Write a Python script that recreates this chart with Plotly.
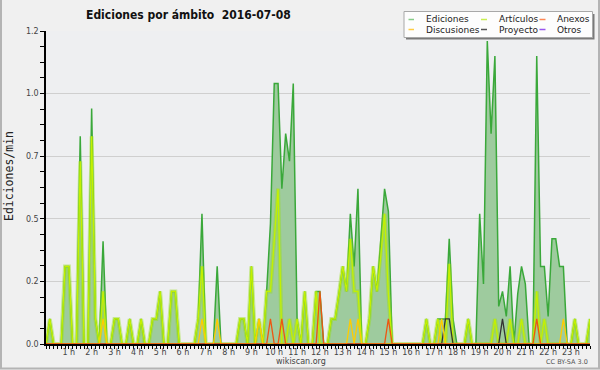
import plotly.graph_objects as go

# ---- data (10-minute bins, 00:00 .. 23:50) ----
minutos = list(range(0, 1440, 10))

ediciones = [
    0, 0.1, 0, 0, 0, 0.31, 0.31, 0, 0, 0.83, 0, 0,
    0.94, 0.1, 0, 0.41, 0, 0, 0.1, 0.1, 0, 0, 0.1, 0,
    0, 0.1, 0, 0, 0.1, 0.1, 0.21, 0, 0, 0.21, 0.21, 0,
    0, 0, 0, 0, 0.1, 0.52, 0, 0, 0, 0.31, 0, 0,
    0, 0, 0, 0.1, 0.1, 0, 0.31, 0, 0.1, 0, 0.21, 0.48,
    1.04, 1.04, 0.62, 0.84, 0.73, 1.04, 0.1, 0, 0.21, 0, 0, 0.21,
    0.21, 0, 0, 0.1, 0.1, 0.2, 0.31, 0.21, 0.52, 0.31, 0.62, 0,
    0, 0.1, 0.31, 0.21, 0.42, 0.62, 0.53, 0, 0, 0, 0, 0,
    0, 0, 0, 0, 0.1, 0, 0, 0.1, 0.1, 0.1, 0.42, 0.1,
    0, 0, 0, 0.1, 0, 0, 0.52, 0.24, 1.21, 0.84, 1.15, 0.15,
    0.21, 0.11, 0.31, 0, 0.2, 0.31, 0.24, 0, 0, 1.15, 0.31, 0.31,
    0.11, 0.42, 0.42, 0.31, 0.31, 0, 0, 0.1, 0, 0, 0, 0.1,
]

articulos = [
    0, 0.1, 0, 0, 0, 0.31, 0.31, 0, 0, 0.73, 0, 0,
    0.83, 0.1, 0, 0.21, 0, 0, 0.1, 0.1, 0, 0, 0.1, 0,
    0, 0.1, 0, 0, 0.1, 0.1, 0.21, 0, 0, 0.21, 0.21, 0,
    0, 0, 0, 0, 0.1, 0.31, 0, 0, 0, 0, 0, 0,
    0, 0, 0, 0.1, 0.1, 0, 0.31, 0, 0.1, 0, 0.21, 0.21,
    0.41, 0.62, 0, 0, 0.1, 0, 0.1, 0, 0.21, 0, 0, 0.21,
    0, 0, 0, 0.1, 0.1, 0.2, 0.31, 0.21, 0.42, 0.21, 0.21, 0,
    0, 0.1, 0.31, 0.21, 0.35, 0.52, 0.2, 0, 0, 0, 0, 0,
    0, 0, 0, 0, 0.1, 0, 0, 0.1, 0, 0, 0.32, 0,
    0, 0, 0, 0.1, 0, 0, 0, 0, 0, 0, 0.1, 0,
    0, 0, 0.1, 0, 0, 0.1, 0, 0, 0, 0.21, 0, 0.1,
    0, 0, 0, 0, 0, 0, 0, 0.1, 0, 0, 0, 0.1,
]

discusiones = [
    0, 0, 0, 0, 0, 0, 0, 0, 0, 0, 0, 0,
    0, 0, 0, 0.1, 0, 0, 0, 0, 0, 0, 0, 0,
    0, 0, 0, 0, 0, 0, 0, 0, 0, 0, 0, 0,
    0, 0, 0, 0, 0, 0.1, 0, 0, 0, 0.1, 0, 0,
    0, 0, 0, 0, 0, 0, 0, 0, 0.1, 0, 0, 0,
    0, 0, 0, 0, 0, 0, 0, 0, 0, 0, 0, 0,
    0, 0, 0, 0, 0, 0, 0, 0, 0.1, 0, 0.1, 0,
    0, 0, 0, 0, 0, 0, 0, 0, 0, 0, 0, 0,
    0, 0, 0, 0, 0, 0, 0, 0, 0.1, 0, 0, 0,
    0, 0, 0, 0, 0, 0, 0, 0, 0, 0, 0, 0,
    0, 0, 0, 0, 0, 0, 0, 0, 0, 0, 0, 0,
    0, 0, 0, 0, 0.1, 0, 0, 0, 0, 0, 0, 0,
]

anexos = [
    0, 0, 0, 0, 0, 0, 0, 0, 0, 0, 0, 0,
    0, 0, 0, 0, 0, 0, 0, 0, 0, 0, 0, 0,
    0, 0, 0, 0, 0, 0, 0, 0, 0, 0, 0, 0,
    0, 0, 0, 0, 0, 0, 0, 0, 0, 0, 0, 0,
    0, 0, 0, 0, 0, 0, 0, 0, 0, 0, 0, 0.1,
    0, 0, 0.1, 0, 0, 0, 0, 0, 0, 0, 0, 0,
    0.21, 0, 0, 0, 0, 0, 0, 0, 0, 0, 0, 0,
    0, 0, 0, 0, 0, 0, 0.1, 0, 0, 0, 0, 0,
    0, 0, 0, 0, 0, 0, 0, 0, 0, 0, 0, 0,
    0, 0, 0, 0, 0, 0, 0, 0, 0, 0, 0, 0,
    0, 0, 0, 0, 0, 0, 0, 0, 0, 0.1, 0, 0,
    0, 0, 0, 0, 0, 0, 0, 0, 0, 0, 0, 0,
]

proyecto = [
    0, 0, 0, 0, 0, 0, 0, 0, 0, 0, 0, 0,
    0, 0, 0, 0, 0, 0, 0, 0, 0, 0, 0, 0,
    0, 0, 0, 0, 0, 0, 0, 0, 0, 0, 0, 0,
    0, 0, 0, 0, 0, 0, 0, 0, 0, 0, 0, 0,
    0, 0, 0, 0, 0, 0, 0, 0, 0, 0, 0, 0,
    0, 0, 0, 0, 0, 0, 0, 0, 0, 0, 0, 0,
    0, 0, 0, 0, 0, 0, 0, 0, 0, 0, 0, 0,
    0, 0, 0, 0, 0, 0, 0, 0, 0, 0, 0, 0,
    0, 0, 0, 0, 0, 0, 0, 0, 0, 0.1, 0.1, 0,
    0, 0, 0, 0, 0, 0, 0, 0, 0, 0, 0, 0,
    0.1, 0, 0, 0, 0, 0, 0, 0, 0, 0, 0, 0,
    0, 0, 0, 0, 0, 0, 0, 0, 0, 0, 0, 0,
]

otros = [0] * 144

hora_vals = [h * 60 for h in range(1, 24)]
hora_text = [f"{h} h" for h in range(1, 24)]
y_vals = [0, 0.25, 0.5, 0.75, 1.0, 1.25]
y_text = ["0.0", "0.2", "0.5", "0.7", "1.0", "1.2"]

series = [
    ("Ediciones", "#88cc88"),
    ("Artículos", "#c8ee50"),
    ("Anexos", "#ff8855"),
    ("Discusiones", "#ffcc44"),
    ("Proyecto", "#555555"),
    ("Otros", "#9955ee"),
]

# ---- layout geometry helpers (pixel -> paper) ----
W, H = 600, 370
ML, MR, MT, MB = 46, 10, 31, 26
PW, PH = W - ML - MR, H - MT - MB


def px(x):
    return (x - ML) / PW


def py(y):
    return (H - MB - y) / PH


fig = go.Figure()

fig.add_trace(go.Scatter(
    x=minutos, y=ediciones, name="Ediciones", mode="lines",
    line=dict(color="#3aa83a", width=1.5), fill="tozeroy",
    fillcolor="#9ecb9e", showlegend=False, hoverinfo="skip"))
fig.add_trace(go.Scatter(
    x=minutos, y=articulos, name="Artículos halo", mode="lines",
    line=dict(color="rgba(150,225,20,0.45)", width=4),
    showlegend=False, hoverinfo="skip"))
fig.add_trace(go.Scatter(
    x=minutos, y=articulos, name="Artículos", mode="lines",
    line=dict(color="#c4f000", width=1.3), showlegend=False))
fig.add_trace(go.Scatter(
    x=minutos, y=otros, name="Otros", mode="lines",
    line=dict(color="#9955ee", width=1.3), showlegend=False))
fig.add_trace(go.Scatter(
    x=minutos, y=proyecto, name="Proyecto", mode="lines",
    line=dict(color="#333333", width=1.3), showlegend=False))
fig.add_trace(go.Scatter(
    x=minutos, y=discusiones, name="Discusiones", mode="lines",
    line=dict(color="#ffcc00", width=1.3), showlegend=False))
fig.add_trace(go.Scatter(
    x=minutos, y=anexos, name="Anexos", mode="lines",
    line=dict(color="#ee5511", width=1.3), showlegend=False))

tickfont = dict(family="DejaVu Sans", size=8, color="#444444")

fig.update_xaxes(
    range=[0, 1430], tickmode="array", tickvals=hora_vals, ticktext=hora_text,
    ticks="outside", ticklen=3, tickwidth=1, tickcolor="black",
    ticklabelstandoff=-4,
    showline=True, linecolor="black", linewidth=2, showgrid=False,
    zeroline=False, tickfont=tickfont,
    minor=dict(tickmode="linear", tick0=0, dtick=10, ticks="outside",
               ticklen=3, tickwidth=1, tickcolor="black", showgrid=False))
fig.update_yaxes(
    range=[0, 1.25], tickmode="array", tickvals=y_vals, ticktext=y_text,
    ticks="outside", ticklen=4, tickwidth=1, tickcolor="black",
    showline=True, linecolor="black", linewidth=1.5, showgrid=True,
    gridcolor="#cfcfcf", gridwidth=1, zeroline=False, tickfont=tickfont,
    minor=dict(tickmode="linear", tick0=0, dtick=0.0625, ticks="outside",
               ticklen=4, tickwidth=1, tickcolor="black", showgrid=False))

shapes = []
annotations = []

# outer frame (left, right, bottom)
for x0, y0, x1, y1 in [(1, 0, 1, 369), (599, 0, 599, 369), (0, 368.5, 600, 368.5)]:
    shapes.append(dict(type="line", xref="paper", yref="paper",
                       x0=px(x0), y0=py(y0), x1=px(x1), y1=py(y1),
                       line=dict(color="#b4b4b4", width=2)))

# legend box with shadow
shapes.append(dict(type="rect", xref="paper", yref="paper", layer="above",
                   x0=px(406), x1=px(594.5), y0=py(14), y1=py(39.5),
                   fillcolor="#7a7a7a", line=dict(width=0)))
shapes.append(dict(type="rect", xref="paper", yref="paper", layer="above",
                   x0=px(404), x1=px(592.5), y0=py(11.5), y1=py(37.5),
                   fillcolor="#fdfdfd", line=dict(color="#a8a8a8", width=1)))

col_sw = [(408.5, 414), (481, 487), (539.5, 545.5)]
col_tx = [424, 496.5, 555]
row_y = [19.5, 29.5]
for k, (name, color) in enumerate(series):
    r, c = divmod(k, 3)
    shapes.append(dict(type="line", xref="paper", yref="paper", layer="above",
                       x0=px(col_sw[c][0]), x1=px(col_sw[c][1]),
                       y0=py(row_y[r]), y1=py(row_y[r]),
                       line=dict(color=color, width=1.5)))
    annotations.append(dict(text=name, xref="paper", yref="paper",
                            x=px(col_tx[c]), y=py(row_y[r]),
                            xanchor="left", yanchor="middle", showarrow=False,
                            font=dict(family="DejaVu Sans", size=9, color="#222222")))

annotations.append(dict(text="<b>Ediciones por ámbito  2016-07-08</b>",
                        xref="paper", yref="paper", x=px(84), y=py(14.5),
                        xanchor="left", yanchor="middle", showarrow=False,
                        font=dict(family="DejaVu Sans Condensed, DejaVu Sans",
                                  size=12, color="#111111")))
annotations.append(dict(text="Ediciones/min", xref="paper", yref="paper",
                        x=px(9), y=py(176), textangle=-90,
                        xanchor="center", yanchor="middle", showarrow=False,
                        font=dict(family="DejaVu Sans Mono", size=11.5,
                                  color="#222222")))
annotations.append(dict(text="wikiscan.org", xref="paper", yref="paper",
                        x=px(300.5), y=py(361.5), xanchor="center",
                        yanchor="middle", showarrow=False,
                        font=dict(family="DejaVu Sans", size=8, color="#444444")))
annotations.append(dict(text="CC BY-SA 3.0", xref="paper", yref="paper",
                        x=px(590), y=py(362), xanchor="right",
                        yanchor="middle", showarrow=False,
                        font=dict(family="DejaVu Sans", size=6.5, color="#555555")))

fig.update_layout(
    width=W, height=H, margin=dict(l=ML, r=MR, t=MT, b=MB),
    paper_bgcolor="#f0f0f0", plot_bgcolor="#eeeff1",
    showlegend=False, shapes=shapes, annotations=annotations,
)

fig.write_html("out.html", config={"displayModeBar": False},
               post_script="document.body.style.margin='0px';"
                           "document.body.style.overflow='hidden';")
